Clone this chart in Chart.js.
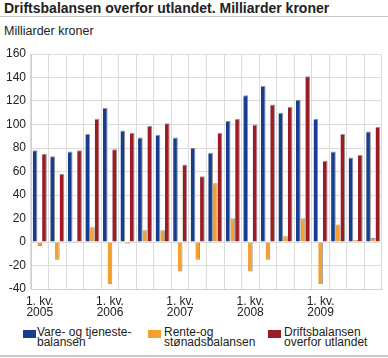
<!DOCTYPE html>
<html>
<head>
<meta charset="utf-8">
<script src="https://cdn.jsdelivr.net/npm/chart.js@4/dist/chart.umd.min.js"></script>
<style>
  html, body { margin:0; padding:0; background:#fff; }
  body { width:388px; height:358px; position:relative; overflow:hidden; font-family:"Liberation Sans", Arial, sans-serif; color:#222; }
  #title { position:absolute; left:4px; top:0px; font-size:14px; font-weight:bold; white-space:nowrap; }
  #titleline { position:absolute; left:0; top:16px; width:388px; height:1px; background:#c8c8c8; }
  #unit { position:absolute; left:4px; top:24px; font-size:12.5px; white-space:nowrap; }
  #wrap { position:absolute; left:0; top:40px; width:388px; height:285px; }
  .leg { position:absolute; top:327px; font-size:12px; line-height:10px; white-space:nowrap; }
  .box { position:absolute; top:3px; width:13px; height:8px; }
  #bottomline { position:absolute; left:0; top:355px; width:388px; height:2px; background:#c8c8c8; }
</style>
</head>
<body>
<div id="title">Driftsbalansen overfor utlandet. Milliarder kroner</div>
<div id="titleline"></div>
<div id="unit">Milliarder kroner</div>
<div id="wrap"><canvas id="c"></canvas></div>
<div class="leg" style="left:23px;"><div class="box" style="left:0;background:#163d8f;"></div><div style="margin-left:14px;">Vare- og tjeneste-<br>balansen</div></div>
<div class="leg" style="left:148px;"><div class="box" style="left:0;background:#f49f2e;"></div><div style="margin-left:16px;">Rente-og<br>stønadsbalansen</div></div>
<div class="leg" style="left:268px;"><div class="box" style="left:0;background:#9b1c24;"></div><div style="margin-left:16px;">Driftsbalansen<br>overfor utlandet</div></div>
<div id="bottomline"></div>
<script>
const years = ["2005","2006","2007","2008","2009"];
const quarters = ["1. kv.","2. kv.","3. kv.","4. kv."];
const vareTjeneste = [78,73,77,92, 114,95,89,91, 89,80,76,103, 125,133,110,121, 105,77,72,94];
const renteStonad  = [-3.5,-15,1,12.5, -36,-1.5,10,10, -25,-15,50,20, -25,-15,5,20, -36,15,2,3.5];
const driftsbalanse= [75,58,78,105, 79,93,99,101, 66,56,93,105, 100,117,115,141, 69,92,74,98];
const yTicks = [-40,-20,0,20,40,60,80,100,120,140,160];

const categories = [];
years.forEach(y => quarters.forEach(q => categories.push(q + " " + y)));

const border = {top:1,right:1,bottom:1,left:0};
const bc = 'rgba(110,110,110,0.75)';

new Chart(document.getElementById('c'), {
  type: 'bar',
  data: {
    labels: categories,
    datasets: [
      { label: 'Vare- og tjenestebalansen', data: vareTjeneste, backgroundColor: '#163d8f', borderColor: bc, borderWidth: border, borderSkipped: 'start' },
      { label: 'Rente-og stønadsbalansen', data: renteStonad, backgroundColor: '#f49f2e', borderColor: bc, borderWidth: border, borderSkipped: 'start' },
      { label: 'Driftsbalansen overfor utlandet', data: driftsbalanse, backgroundColor: '#9b1c24', borderColor: bc, borderWidth: border, borderSkipped: 'start' }
    ]
  },
  options: {
    responsive: true,
    maintainAspectRatio: false,
    animation: false,
    layout: { padding: { top: 14, right: 6, left: 0, bottom: 0 } },
    datasets: { bar: { categoryPercentage: 0.8, barPercentage: 1.0 } },
    plugins: { legend: { display: false }, tooltip: { enabled: false } },
    scales: {
      x: {
        afterFit: s => { s.height = 36; },
        grid: { color: '#dcdcdc', drawTicks: false, offset: true },
        border: { color: '#cfcfcf' },
        ticks: {
          autoSkip: false, maxRotation: 0, padding: 7, color: '#222',
          font: { family: '"Liberation Sans", Arial, sans-serif', size: 12, lineHeight: '11px' },
          callback: function(v, i) {
            const lab = categories[i];
            if (i % 4 === 0) { const p = lab.split(' '); return [p[0] + ' ' + p[1], p[2]]; }
            return '';
          }
        }
      },
      y: {
        min: -40, max: 160,
        afterFit: s => { s.width = 31; },
        afterBuildTicks: s => { s.ticks = yTicks.map(v => ({ value: v })); },
        grid: { color: '#dcdcdc', drawTicks: false },
        border: { color: '#cfcfcf' },
        ticks: { padding: 5, color: '#222', font: { family: '"Liberation Sans", Arial, sans-serif', size: 12 } }
      }
    }
  }
});
</script>
</body>
</html>
